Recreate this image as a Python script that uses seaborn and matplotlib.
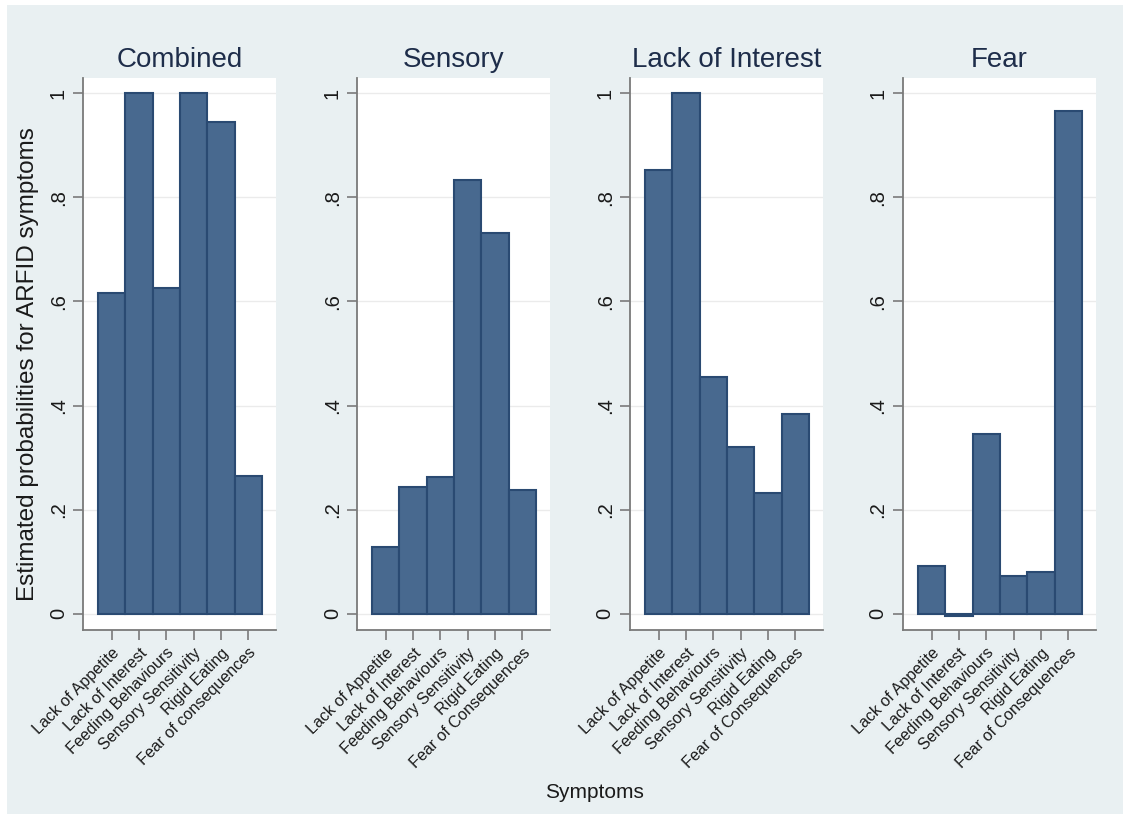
import matplotlib
matplotlib.use("Agg")
import matplotlib.pyplot as plt
import seaborn as sns
import pandas as pd

# Latent class profiles: estimated probability of each ARFID symptom
symptoms = ["Lack of Appetite", "Lack of Interest", "Feeding Behaviours",
            "Sensory Sensitivity", "Rigid Eating", "Fear of Consequences"]
combined_labels = ["Lack of Appetite", "Lack of Interest", "Feeding Behaviours",
                   "Sensory Sensitivity", "Rigid Eating", "Fear of consequences"]

classes = ["Combined", "Sensory", "Lack of Interest", "Fear"]
combined = [0.616, 1.0, 0.625, 1.0, 0.944, 0.265]
sensory = [0.129, 0.244, 0.263, 0.833, 0.731, 0.238]
lack_of_interest = [0.852, 1.0, 0.455, 0.320, 0.232, 0.384]
fear = [0.091, -0.004, 0.346, 0.072, 0.080, 0.965]

yticks = [0, 0.2, 0.4, 0.6, 0.8, 1.0]
ytick_labels = ["0", ".2", ".4", ".6", ".8", "1"]

values = [combined, sensory, lack_of_interest, fear]
labels = [combined_labels, symptoms, symptoms, symptoms]

bg = "#E9F0F2"
bar_fill = "#48698F"
bar_edge = "#2A4A72"
axis_col = "#7A7A7A"
text_col = "#1A1A1A"
title_col = "#1E2D4A"

sns.set_theme(style="white")
plt.rcParams["font.family"] = ["Liberation Sans", "DejaVu Sans"]

fig = plt.figure(figsize=(11.3, 8.19), dpi=100)
fig.patch.set_facecolor("white")
# Graph region background inset from the figure edge
fig.patches.append(plt.Rectangle((0.006, 0.006), 0.988, 0.988,
                                 transform=fig.transFigure, facecolor=bg,
                                 edgecolor="none", zorder=-10))

lefts = [0.0735, 0.316, 0.5575, 0.799]
bottom, height, width = 0.2308, 0.674, 0.1705

for i, (name, vals, labs) in enumerate(zip(classes, values, labels)):
    ax = fig.add_axes([lefts[i], bottom, width, height])
    df = pd.DataFrame({"symptom": labs, "prob": vals})
    ax.set_facecolor("white")
    for y in yticks:
        ax.axhline(y, color="#EBEBEB", lw=1.0, zorder=0)
    sns.barplot(data=df, x="symptom", y="prob", ax=ax, width=1.0,
                color=bar_fill, saturation=1, edgecolor=bar_edge,
                linewidth=1.5, zorder=2)
    ax.set_xlim(-1.05, 6.0)
    ax.set_ylim(-0.031, 1.029)
    ax.set_yticks(yticks)
    ax.set_yticklabels(ytick_labels, rotation=90, va="center", fontsize=14.5,
                       color=text_col)
    ax.set_xticks(range(len(labs)))
    ax.set_xticklabels(labs, rotation=45, ha="right", rotation_mode="anchor",
                       fontsize=11.6, color=text_col)
    ax.tick_params(axis="both", which="both", direction="out", length=7,
                   width=1.2, color=axis_col, left=True, bottom=True, pad=4)
    ax.tick_params(axis="y", pad=4)
    for side in ["top", "right"]:
        ax.spines[side].set_visible(False)
    for side in ["left", "bottom"]:
        ax.spines[side].set_color(axis_col)
        ax.spines[side].set_linewidth(1.3)
    ax.set_xlabel("")
    ax.set_ylabel("")
    ax.set_title(name, fontsize=20, color=title_col, pad=8)

fig.text(0.025, 0.555, "Estimated probabilities for ARFID symptoms",
         rotation=90, ha="center", va="center", fontsize=17.5, color=text_col)
fig.text(0.526, 0.032, "Symptoms", ha="center", va="center", fontsize=15,
         color=text_col)

fig.savefig("out.png", dpi=100, facecolor=fig.get_facecolor())
